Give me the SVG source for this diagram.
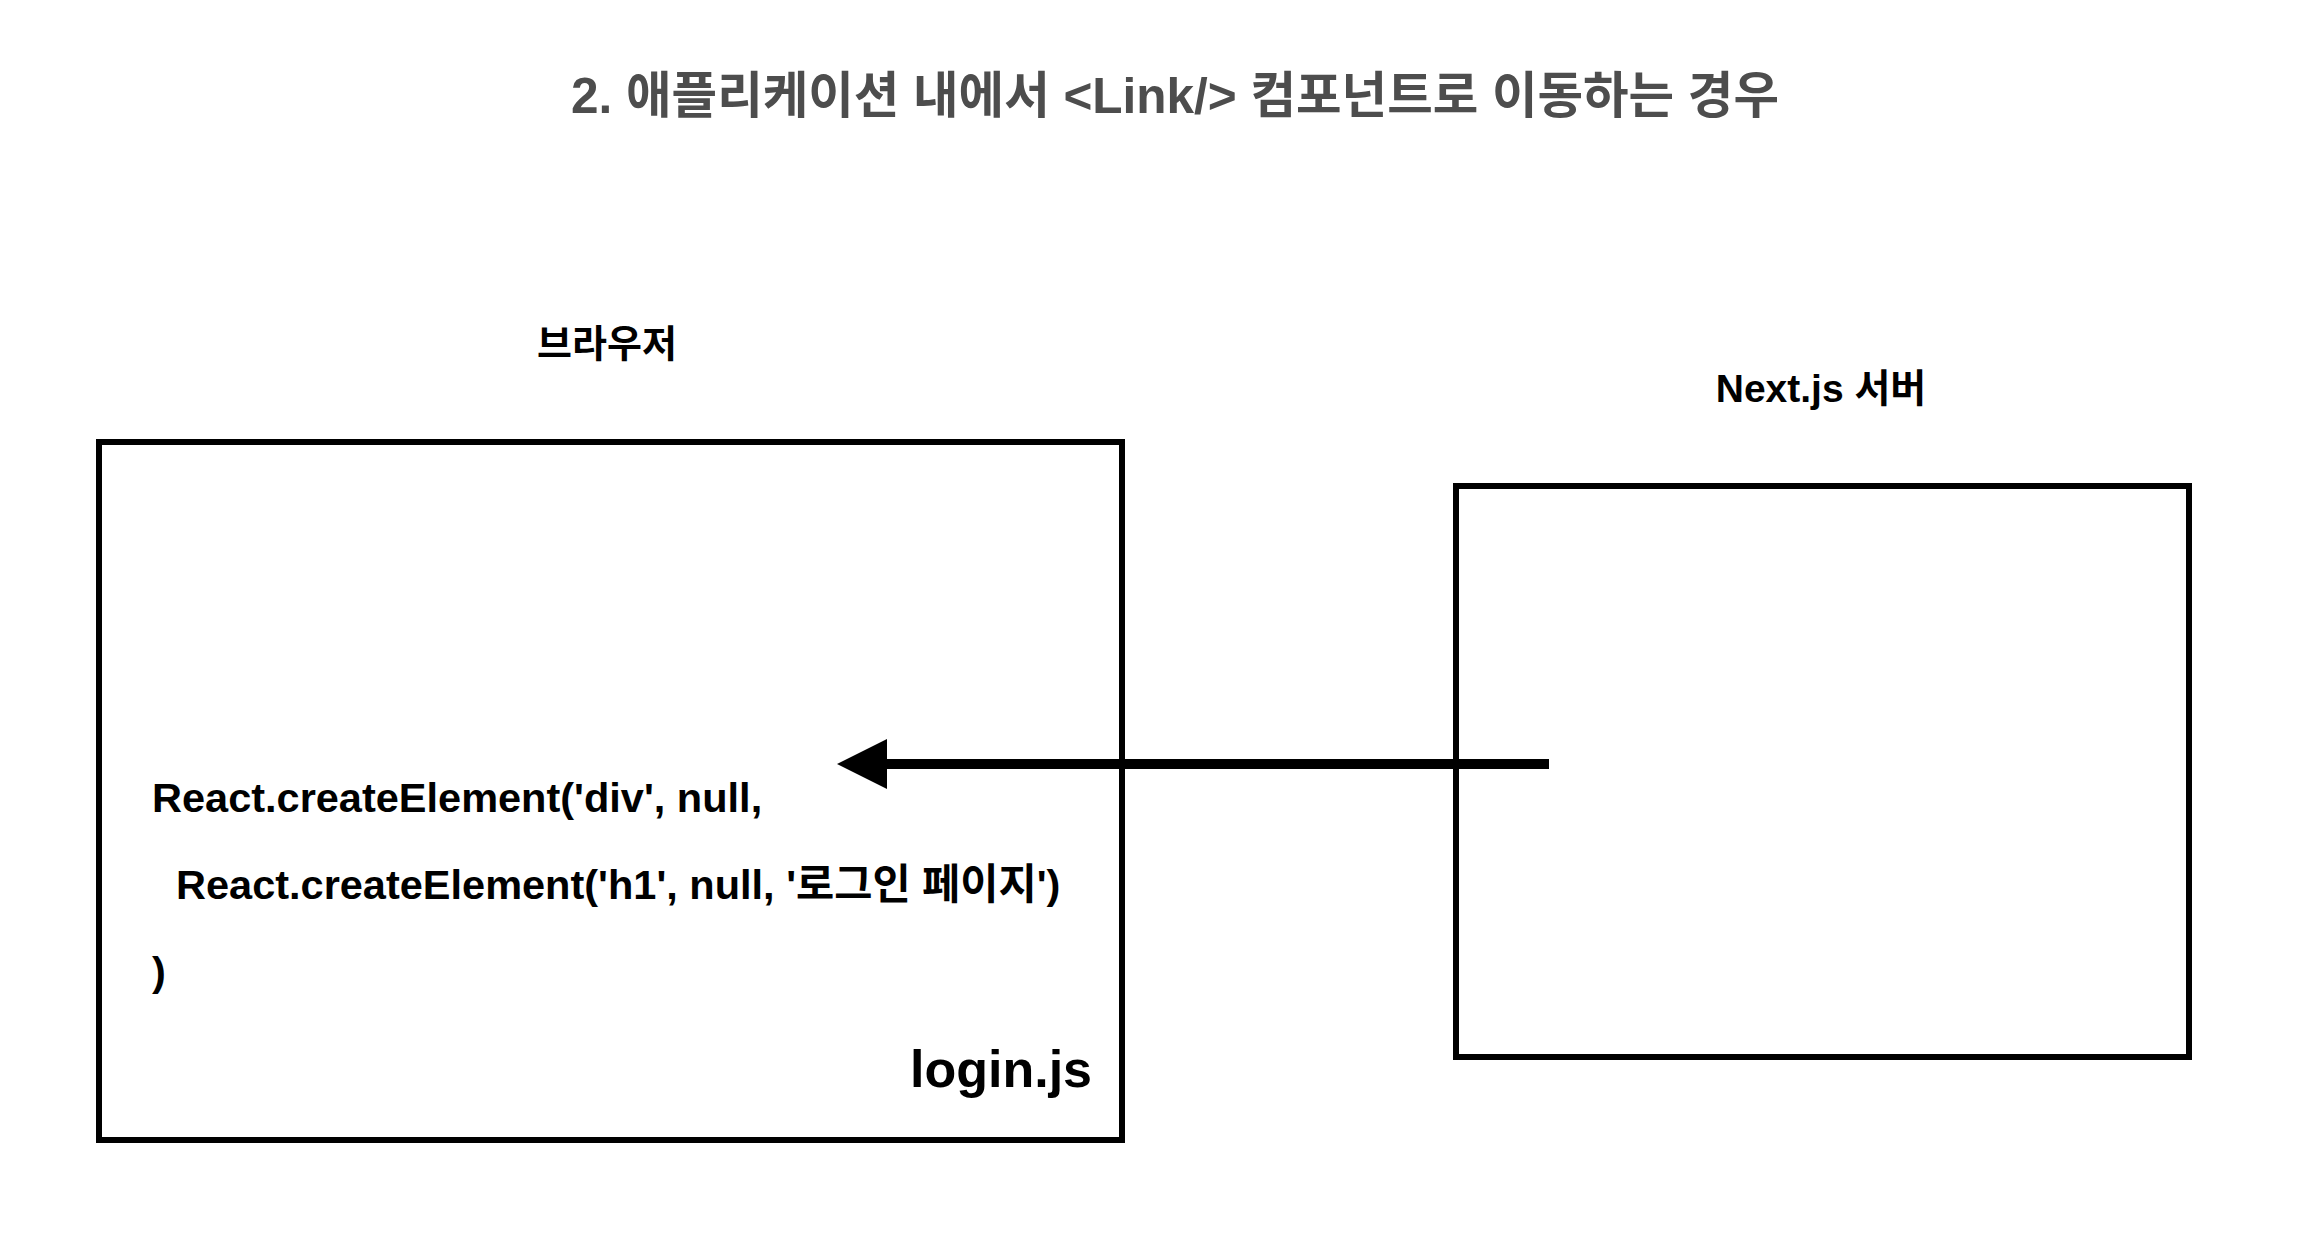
<svg xmlns="http://www.w3.org/2000/svg" width="2306" height="1250" viewBox="0 0 2306 1250">
<style>
text{font-family:"Liberation Sans","Noto Sans CJK KR",sans-serif;font-weight:bold;fill:#000}
.box{fill:none;stroke:#000;stroke-width:6}
</style>
<rect width="2306" height="1250" fill="#fff"/>
<text x="1175" y="113" font-size="49.5" text-anchor="middle" style="fill:#4d4d4d">2. 애플리케이션 내에서 &lt;Link/&gt; 컴포넌트로 이동하는 경우</text>
<g id="browser">
<text x="607" y="357" font-size="38" text-anchor="middle">브라우저</text>
<rect class="box" x="99" y="442" width="1023" height="698"/>
<text x="152" y="812" font-size="41.5">React.createElement('div', null,</text>
<text x="176" y="899" font-size="41.5">React.createElement('h1', null, '로그인 페이지')</text>
<text x="152" y="986" font-size="41.5">)</text>
<text x="1092" y="1087" font-size="52" text-anchor="end">login.js</text>
</g>
<g id="server">
<text x="1821" y="402" font-size="39" text-anchor="middle">Next.js 서버</text>
<rect class="box" x="1456" y="486" width="733" height="571"/>
</g>
<g id="connectors">
<line x1="1549" y1="764" x2="885" y2="764" stroke="#000" stroke-width="10"/>
<path d="M837,764 L887,739 L887,789 Z"/>
</g>
</svg>
